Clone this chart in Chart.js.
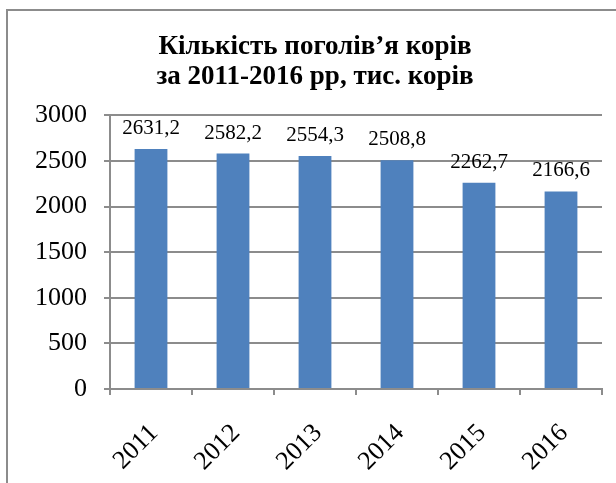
<!DOCTYPE html>
<html>
<head>
<meta charset="utf-8">
<script src="https://cdn.jsdelivr.net/npm/chart.js@4"></script>
<style>
  body { margin: 0; background: #fff; }
  #wrap { position: relative; width: 616px; height: 483px; overflow: hidden; }
  #frame { position: absolute; left: 6px; top: 9px; width: 700px; height: 600px; border: 2px solid #8c8c8c; }
  canvas { position: absolute; left: 0; top: 0; }
</style>
</head>
<body>
<div id="wrap">
  <div id="frame"></div>
  <canvas id="chart1" width="616" height="483"></canvas>
</div>
<script>
// values
const years = ['2011', '2012', '2013', '2014', '2015', '2016'];
const cows = [2631.2, 2582.2, 2554.3, 2508.8, 2262.7, 2166.6];
const titleLines = ['Кількість поголів’я корів', 'за 2011-2016 рр, тис. корів'];

const serif = '"Liberation Serif", "Times New Roman", serif';

// labels above the bars, comma as decimal mark
const barLabels = {
    id: 'barLabels',
    afterDatasetsDraw(chart) {
        const ctx = chart.ctx;
        const meta = chart.getDatasetMeta(0);
        ctx.save();
        ctx.font = '21px ' + serif;
        ctx.fillStyle = '#000';
        ctx.textAlign = 'center';
        ctx.textBaseline = 'alphabetic';
        meta.data.forEach(function(bar, i) {
            const txt = cows[i].toFixed(1).replace('.', ',');
            ctx.fillText(txt, bar.x, bar.y - 15);
        });
        ctx.restore();
    }
};

document.addEventListener("DOMContentLoaded", function() {
    const ctx1 = document.getElementById('chart1').getContext('2d');
    new Chart(ctx1, {
        type: 'bar',
        data: {
            labels: years,
            datasets: [{
                data: cows,
                backgroundColor: '#4F81BD',
                categoryPercentage: 1,
                barPercentage: 0.4
            }]
        },
        options: {
            responsive: false,
            animation: false,
            // left padding keeps the title centred like the original
            layout: { padding: { left: 28, right: 14, top: 0, bottom: 0 } },
            plugins: {
                legend: { display: false },
                tooltip: { enabled: false },
                title: {
                    display: true,
                    text: titleLines,
                    color: '#000',
                    font: { family: serif, size: 27, weight: 'bold', lineHeight: 1.1 },
                    padding: { top: 32, bottom: 24 }
                }
            },
            scales: {
                x: {
                    grid: { display: true, drawOnChartArea: false, drawTicks: true, tickLength: 6, color: '#8c8c8c', lineWidth: 2 },
                    border: { color: '#8c8c8c', width: 2 },
                    ticks: { color: '#000', font: { family: serif, size: 26 }, minRotation: 45, maxRotation: 45, padding: 23, labelOffset: 3 },
                    afterFit: function(scale) { scale.height = 94; }
                },
                y: {
                    min: 0,
                    max: 3000,
                    ticks: {
                        stepSize: 500,
                        color: '#000',
                        font: { family: serif, size: 26 },
                        padding: 17,
                        callback: function(v) { return String(v); }
                    },
                    grid: { color: '#8c8c8c', lineWidth: 2, tickLength: 6 },
                    border: { color: '#8c8c8c', width: 2 },
                    afterFit: function(scale) { scale.width = 82; }
                }
            }
        },
        plugins: [barLabels]
    });
});
</script>
</body>
</html>
